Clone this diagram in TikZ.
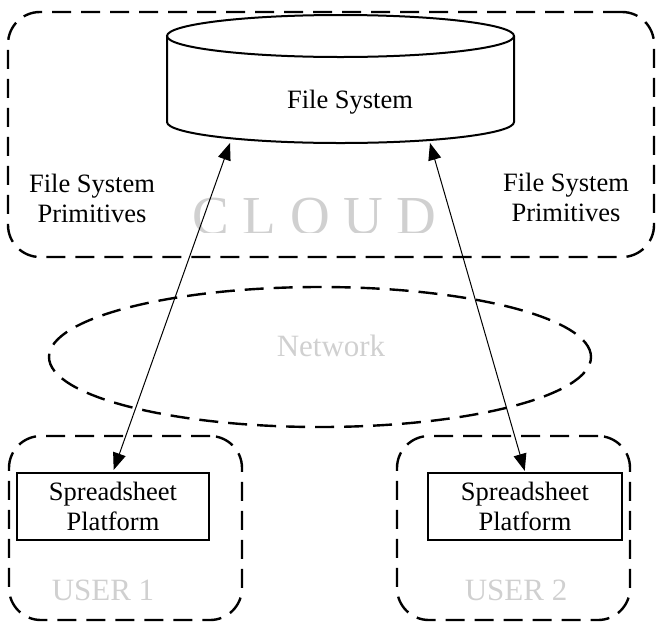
\documentclass[tikz,border=0pt]{standalone}
\usepackage{fontspec}
\setmainfont{Liberation Serif}
\usetikzlibrary{arrows.meta,shapes.geometric}
\definecolor{lightgrey}{RGB}{208,208,208}

\begin{document}
\begin{tikzpicture}[x=0.5pt, y=-0.5pt]
                \useasboundingbox (0,0) rectangle (657,622);
                \begin{scope}[every node/.style={draw, line width=1.2pt, dash pattern=on 9.5pt off 5pt, rounded corners=16pt, inner sep=0}]
                        \node [minimum width=323pt, minimum height=122.5pt] (cloud) at (331,134.5) {};
                        \node [minimum width=116.5pt, minimum height=92pt] (u1) at (125.5,528) {};
                        \node [minimum width=116.5pt, minimum height=92pt] (u2) at (513.5,528) {};
                        \node [ellipse, sharp corners, minimum width=271pt, minimum height=70pt] (net) at (320,357) {};
                \end{scope}
                % cylinder for the file system
                \draw[line width=1pt] (340.5,36) ellipse [x radius=173.5, y radius=21];
                \draw[line width=1pt] (167,36) -- (167,122) arc [start angle=180, end angle=0, x radius=173.5, y radius=21] -- (514,36);
                \begin{scope}
                        \clip (0,0) rectangle (657,232);
                        \node [anchor=base, text=lightgrey, font=\fontsize{27.5pt}{30pt}\selectfont] (cloudlbl) at (314.5,234) {C L O U D};
                \end{scope}
                \begin{scope}[every node/.style={font=\fontsize{15.5pt}{18pt}\selectfont, text=lightgrey, anchor=base}]
                        \node (netlbl) at (331,356) {Network};
                        \node (u1lbl) at (103,600) {USER 1};
                        \node (u2lbl) at (516,600) {USER 2};
                \end{scope}
                \begin{scope}[every node/.style={font=\fontsize{13.25pt}{15pt}\selectfont, align=center, inner sep=0}]
                        \node [anchor=base] (fs) at (350,108) {File System};
                        \node (pl) at (92,198) {File System\\Primitives};
                        \node (pr) at (566,197) {File System\\Primitives};
                        \node [draw, line width=1.2pt, minimum width=96pt, minimum height=33.5pt] (sp1) at (113,506.5) {Spreadsheet\\Platform};
                        \node [draw, line width=1.2pt, minimum width=97pt, minimum height=33.5pt] (sp2) at (525,506.5) {Spreadsheet\\Platform};
                \end{scope}
                \coordinate (fsl) at (230,143);
                \coordinate (fsr) at (430,143);
                \begin{scope}[every path/.style={line width=0.5pt, <->, >={Triangle[length=8.5pt, width=6.5pt]}}]
                        \path (fsl) edge [shorten >=1pt] (sp1.north);
                        \path (fsr) edge [shorten >=0.5pt] (sp2.north);
                \end{scope}
        \end{tikzpicture}
\end{document}
